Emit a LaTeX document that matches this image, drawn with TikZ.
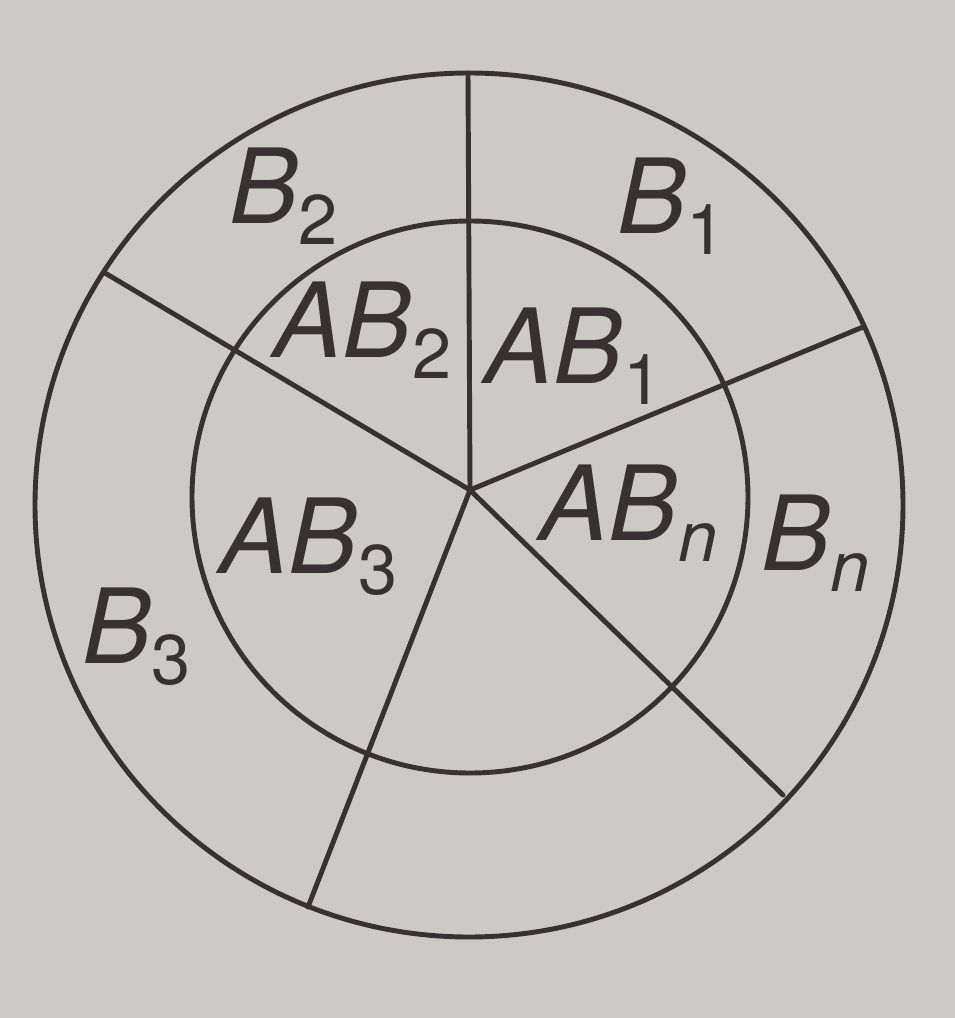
\documentclass[tikz,border=0pt]{standalone}
\usepackage{fontspec}
\setmainfont{TeX Gyre Heros}
\usepackage{tikz}
\usetikzlibrary{positioning}
\definecolor{paper}{RGB}{205,201,199}
\definecolor{ink}{RGB}{56,49,49}
\newcommand{\setname}[2]{\textit{#1}\raisebox{-6pt}{\fontsize{20}{20}\selectfont #2}}

\begin{document}
\begin{tikzpicture}[x=0.01cm, y=-0.01cm,
    edge/.style={line width=1.4pt, draw=ink, line cap=round},
    setlabel/.style={anchor=base west, inner sep=0pt, text=ink, font=\fontsize{29.5}{31}\selectfont}]
  % Paper
  \fill[paper] (0,0) rectangle (955,1018);

  % Sample space (outer circle) and event A (inner circle)
  \draw[edge] (469,505) ellipse [x radius=434, y radius=432];
  \draw[edge] (470,497) ellipse [x radius=278, y radius=276];

  % Partition B_1, ..., B_n
  \coordinate (O) at (470,490);
  \coordinate (top) at (468,73);
  \coordinate (E1) at (863,327);
  \coordinate (E2) at (783,795);
  \coordinate (E3) at (308,907);
  \coordinate (E4) at (105,273);
  \foreach \e in {top,E1,E2,E3,E4}
    \draw[edge] (O) -- (\e);

  % Labels
  \node[setlabel] (b2) at (229,223) {\setname{B}{2}};
  \node[setlabel] (b1) at (617,233) {\setname{B}{1}};
  \node[setlabel] (ab2) at (273,357) {\setname{AB}{2}};
  \node[setlabel] (ab1) at (484,383) {\setname{AB}{1}};
  \node[setlabel] (abn) at (539,540) {\setname{AB}{\textit{n}}};
  \node[setlabel] (bn) at (761,570) {\setname{B}{\textit{n}}};
  \node[setlabel] (ab3) at (219,573) {\setname{AB}{3}};
  \node[setlabel] (b3) at (82,663) {\setname{B}{3}};
\end{tikzpicture}
\end{document}
